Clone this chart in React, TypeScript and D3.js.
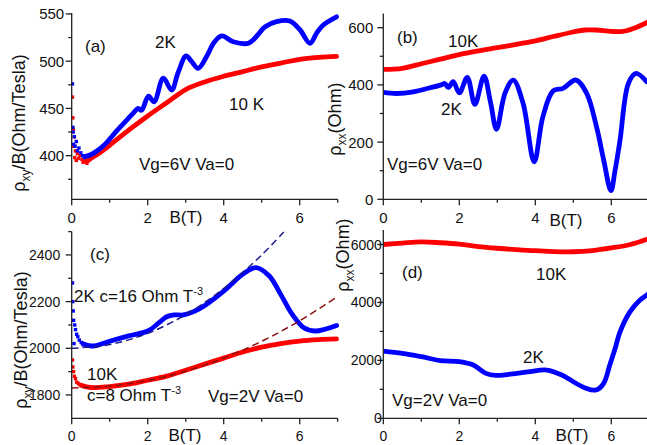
import React from 'react';
import * as d3 from 'd3';

type P = [number, number];

// ---------- shared x ticks ----------
const bMajor = [0, 2, 4, 6];
const bMinor = [1, 3, 5, 7];

// ---------- panel (a) ----------
const aYTicks = [400, 450, 500, 550];
const aYMinor = [375, 425, 475, 525];
const a2KScatter: P[] = [[0.02, 476], [0.03, 430], [0.04, 425], [0.05, 412], [0.07, 420], [0.09, 410], [0.12, 415], [0.15, 405], [0.19, 408], [0.24, 403], [0.29, 400], [0.34, 398]];
const a10KScatter: P[] = [[0.02, 462], [0.03, 440], [0.04, 428], [0.05, 410], [0.07, 420], [0.08, 398], [0.1, 405], [0.12, 395], [0.15, 402], [0.18, 397], [0.22, 400], [0.27, 396], [0.3, 393], [0.35, 395], [0.4, 392]];
const a2K: P[] = [[0.35, 399], [0.5, 401], [0.7, 406], [0.85, 411], [1.01, 418], [1.2, 427], [1.45, 437.7], [1.62, 445], [1.75, 450], [1.84, 448], [2.02, 463], [2.17, 457], [2.41, 482], [2.63, 469.5], [2.8, 488], [3.01, 505.5], [3.15, 500], [3.33, 492.5], [3.55, 505], [3.75, 520], [3.95, 526.7], [4.25, 520.6], [4.65, 519], [4.9, 528], [5.09, 536.5], [5.39, 541.8], [5.74, 542.5], [6.01, 533], [6.27, 519], [6.45, 530], [6.62, 538.3], [6.97, 547]];
const a10K: P[] = [[0.4, 394], [0.5, 397], [0.7, 402], [1.0, 411], [1.5, 427], [2.0, 442], [2.5, 456], [3.0, 470], [3.5, 478], [4.0, 484], [4.5, 489], [5.0, 494], [5.5, 498], [6.0, 502], [6.5, 504], [6.97, 505]];

// ---------- panel (b) ----------
const bYTicks = [0, 200, 400, 600];
const bYMinor = [100, 300, 500];
const b10K: P[] = [[0, 454], [0.5, 458], [1.0, 474], [1.5, 490], [2.0, 506], [2.5, 519], [3.0, 530], [3.5, 542], [4.0, 554], [4.5, 570], [5.0, 585], [5.3, 592], [5.6, 592], [6.0, 587], [6.3, 587], [6.6, 598], [7.0, 622]];
const b2K: P[] = [[0, 374], [0.35, 370], [0.79, 376], [1.23, 390], [1.53, 400], [1.62, 405], [1.71, 391], [1.84, 411], [2.0, 372], [2.21, 426], [2.41, 332], [2.65, 431], [2.82, 340], [2.98, 245], [3.2, 370], [3.42, 417], [3.68, 335], [3.97, 131], [4.2, 289], [4.47, 379], [4.73, 388], [5.07, 417], [5.35, 371], [5.61, 254], [5.8, 137], [5.99, 30], [6.1, 102], [6.23, 207], [6.45, 405], [6.65, 440], [6.93, 411]];

// ---------- panel (c) ----------
const cYTicks = [1800, 2000, 2200, 2400];
const cYMinor = [1900, 2100, 2300, 2500];
const c2KScatter: P[] = [[0.02, 2280], [0.03, 2200], [0.04, 2160], [0.05, 2120], [0.06, 2020], [0.08, 2100], [0.1, 2080], [0.13, 2060], [0.16, 2050], [0.2, 2035], [0.25, 2025], [0.3, 2015]];
const c10KScatter: P[] = [[0.02, 1950], [0.03, 1920], [0.05, 1900], [0.07, 1880], [0.1, 1870], [0.13, 1855], [0.17, 1850], [0.2, 1845], [0.25, 1840]];
const c2K: P[] = [[0.3, 2020], [0.45, 2012], [0.6, 2010], [1.0, 2030], [1.5, 2053], [2.0, 2074], [2.3, 2110], [2.5, 2135], [2.7, 2143], [2.94, 2143], [3.38, 2171], [4.0, 2245], [4.5, 2317], [4.85, 2346], [5.2, 2310], [5.5, 2231], [5.8, 2146], [6.1, 2089], [6.4, 2074], [6.97, 2098]];
const c10K: P[] = [[0.25, 1842], [0.5, 1832], [1.0, 1836], [1.5, 1846], [2.0, 1863], [2.5, 1881], [3.0, 1906], [3.5, 1932], [4.0, 1958], [4.5, 1984], [5.0, 2005], [5.5, 2020], [6.0, 2031], [6.5, 2037], [6.97, 2040]];
const c2KFit: P[] = [[0, 2000], [1, 2016], [2, 2064], [3, 2144], [4, 2256], [5, 2400], [5.6, 2502]];
const c10KFit: P[] = [[0, 1830], [1, 1838], [2, 1862], [3, 1902], [4, 1958], [5, 2030], [6, 2118], [7, 2222]];

// ---------- panel (d) ----------
const dYTicks = [0, 2000, 4000, 6000];
const dYMinor = [1000, 3000, 5000];
const d10K: P[] = [[0, 6000], [0.5, 6050], [1, 6090], [1.5, 6060], [2, 6010], [2.5, 5930], [3, 5870], [3.5, 5820], [4, 5785], [4.5, 5755], [5, 5750], [5.5, 5790], [6, 5880], [6.5, 6000], [7, 6210]];
const d2K: P[] = [[0, 2321], [0.5, 2241], [1, 2126], [1.5, 1995], [2, 1955], [2.37, 1838], [2.7, 1550], [2.96, 1480], [3.3, 1517], [3.8, 1600], [4.3, 1666], [4.7, 1493], [5.0, 1262], [5.3, 1055], [5.6, 976], [5.8, 1207], [5.96, 1840], [6.1, 2410], [6.23, 2986], [6.49, 3676], [6.75, 4079], [6.93, 4252], [7, 4320]];

const FONT = 'Liberation Sans, Arial, Helvetica, sans-serif';
const BLUE = '#0000ff';
const RED = '#ff0000';

interface Series { data: P[]; color: string; width: number; dash?: string; scatter?: boolean; }
interface PanelProps {
  id: string;
  xr: [number, number];
  yd: [number, number];
  yr: [number, number];
  yTicks: number[];
  yMinor: number[];
  tickFont: number;
  labelGap: number;
  xLabelBaseline: number;
  series: Series[];
  children?: React.ReactNode;
}

function Panel(p: PanelProps) {
  const x = d3.scaleLinear().domain([0, 7]).range(p.xr);
  const y = d3.scaleLinear().domain(p.yd).range(p.yr);
  const x0 = p.xr[0];
  const yb = p.yr[0];
  const yt = p.yr[1];
  const line = d3.line<P>().x(d => x(d[0])).y(d => y(d[1])).curve(d3.curveCatmullRom.alpha(0.5));
  const clipId = 'clip-' + p.id;
  return (
    <g>
      <defs>
        <clipPath id={clipId}>
          <rect x={x0} y={yt - 2} width={p.xr[1] - x0 + 4} height={yb - yt + 2} />
        </clipPath>
      </defs>
      <g clipPath={`url(#${clipId})`}>
        {p.series.map((s, i) =>
          s.scatter ? (
            <g key={i} fill={s.color}>
              {s.data.map((d, j) => (
                <rect key={j} x={x(d[0]) - 1.7} y={y(d[1]) - 1.7} width={3.4} height={3.4} />
              ))}
            </g>
          ) : (
            <path key={i} d={line(s.data) || ''} fill="none" stroke={s.color} strokeWidth={s.width}
              strokeDasharray={s.dash} strokeLinejoin="round" strokeLinecap={s.dash ? 'butt' : 'round'} />
          )
        )}
      </g>
      {/* axes */}
      <g stroke="#222" strokeWidth={1.3} fill="none">
        <line x1={x0} y1={yb} x2={p.xr[1]} y2={yb} />
        <line x1={x0} y1={yb} x2={x0} y2={yt} />
        {bMajor.map(t => <line key={'xm' + t} x1={x(t)} x2={x(t)} y1={yb} y2={yb + 6} />)}
        {bMinor.map(t => <line key={'xn' + t} x1={x(t)} x2={x(t)} y1={yb} y2={yb + 3.5} />)}
        {p.yTicks.map(t => <line key={'ym' + t} x1={x0 - 6} x2={x0} y1={y(t)} y2={y(t)} />)}
        {p.yMinor.map(t => <line key={'yn' + t} x1={x0 - 3.5} x2={x0} y1={y(t)} y2={y(t)} />)}
      </g>
      <g fontFamily={FONT} fontSize={p.tickFont} fill="#111">
        {bMajor.map(t => (
          <text key={'xl' + t} x={x(t)} y={p.xLabelBaseline} textAnchor="middle">{t}</text>
        ))}
        {p.yTicks.map(t => (
          <text key={'yl' + t} x={x0 - p.labelGap} y={y(t) + p.tickFont * 0.36} textAnchor="end">{t}</text>
        ))}
      </g>
      {p.children}
    </g>
  );
}

export default function App() {
  const T = { fontFamily: FONT, fontSize: 17, fill: '#111' } as const;
  return (
    <svg width={647} height={445} style={{ position: 'absolute', left: 0, top: 0, background: '#fff' }}>
      <rect x={0} y={0} width={647} height={445} fill="#fff" />
      {/* (a) */}
      <Panel id="a" xr={[71.7, 337.7]} yd={[353.8, 551]} yr={[199.3, 13]} yTicks={aYTicks} yMinor={aYMinor}
        tickFont={15} labelGap={7.5} xLabelBaseline={222.5}
        series={[
          { data: a10KScatter, color: RED, width: 0, scatter: true },
          { data: a2KScatter, color: BLUE, width: 0, scatter: true },
          { data: a10K, color: RED, width: 4.8 },
          { data: a2K, color: BLUE, width: 4.8 },
        ]}>
        <text {...T} x={85} y={52}>(a)</text>
        <text {...T} x={155} y={48}>2K</text>
        <text {...T} x={229} y={110}>10 K</text>
        <text {...T} x={139} y={170}>Vg=6V Va=0</text>
        <text {...T} x={186} y={223} textAnchor="middle">B(T)</text>
        <text {...T} fontSize={18} transform="translate(25,123) rotate(-90)" textAnchor="middle">
          ρ<tspan fontSize={12} dy={5}>xy</tspan><tspan dy={-5}>/B(Ohm/Tesla)</tspan>
        </text>
      </Panel>
      {/* (c) */}
      <Panel id="c" xr={[71.7, 337.7]} yd={[1700, 2500]} yr={[418.3, 231.6]} yTicks={cYTicks} yMinor={cYMinor}
        tickFont={14} labelGap={11.5} xLabelBaseline={440.5}
        series={[
          { data: c10KScatter, color: RED, width: 0, scatter: true },
          { data: c2KScatter, color: BLUE, width: 0, scatter: true },
          { data: c10K, color: RED, width: 4.8 },
          { data: c2K, color: BLUE, width: 4.8 },
          { data: c2KFit, color: '#1a1a8c', width: 1.5, dash: '7 4' },
          { data: c10KFit, color: '#8b1010', width: 1.5, dash: '7 4' },
        ]}>
        <text {...T} x={90} y={260}>(c)</text>
        <text {...T} x={74} y={302}>2K c=16 Ohm T<tspan fontSize={11} dy={-7}>-3</tspan></text>
        <text {...T} x={87} y={380}>10K</text>
        <text {...T} x={87} y={401}>c=8 Ohm T<tspan fontSize={11} dy={-7}>-3</tspan></text>
        <text {...T} x={208} y={402}>Vg=2V Va=0</text>
        <text {...T} x={185} y={440.5} textAnchor="middle">B(T)</text>
        <text {...T} fontSize={18} transform="translate(26.5,340) rotate(-90)" textAnchor="middle">
          ρ<tspan fontSize={12} dy={5}>xy</tspan><tspan dy={-5}>/B(Ohm/Tesla)</tspan>
        </text>
      </Panel>
      {/* (b) */}
      <Panel id="b" xr={[383.3, 649.3]} yd={[0, 650]} yr={[199.3, 13.4]} yTicks={bYTicks} yMinor={bYMinor}
        tickFont={15} labelGap={10} xLabelBaseline={222.5}
        series={[
          { data: b10K, color: RED, width: 4.8 },
          { data: b2K, color: BLUE, width: 4.8 },
        ]}>
        <text {...T} x={397} y={43}>(b)</text>
        <text {...T} x={448} y={47}>10K</text>
        <text {...T} x={441} y={115}>2K</text>
        <text {...T} x={387} y={170}>Vg=6V Va=0</text>
        <text {...T} x={566} y={226} textAnchor="middle">B(T)</text>
        <text {...T} fontSize={18} transform="translate(341,119) rotate(-90)" textAnchor="middle">
          ρ<tspan fontSize={12} dy={5}>xx</tspan><tspan dy={-5}>(Ohm)</tspan>
        </text>
      </Panel>
      {/* (d) */}
      <Panel id="d" xr={[383.3, 649.3]} yd={[0, 6500]} yr={[418.3, 230]} yTicks={dYTicks} yMinor={dYMinor}
        tickFont={14} labelGap={1.5} xLabelBaseline={440.5}
        series={[
          { data: d10K, color: RED, width: 4.8 },
          { data: d2K, color: BLUE, width: 4.8 },
        ]}>
        <text {...T} x={402} y={278}>(d)</text>
        <text {...T} x={536} y={280}>10K</text>
        <text {...T} x={523} y={363}>2K</text>
        <text {...T} x={392} y={406}>Vg=2V Va=0</text>
        <text {...T} x={572} y={440.5} textAnchor="middle">B(T)</text>
        <text {...T} fontSize={18} transform="translate(349,255) rotate(-90)" textAnchor="middle">
          ρ<tspan fontSize={12} dy={5}>xx</tspan><tspan dy={-5}>(Ohm)</tspan>
        </text>
      </Panel>
    </svg>
  );
}
